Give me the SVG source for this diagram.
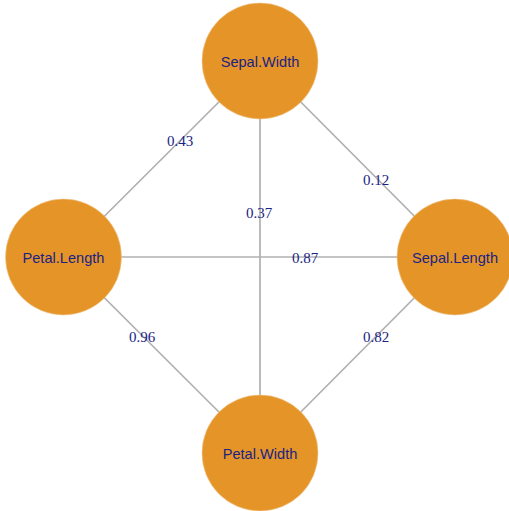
<svg xmlns="http://www.w3.org/2000/svg" width="509" height="511" viewBox="0 0 509 511">
  <style>
    .edge { stroke: #B0B0B0; stroke-width: 1.7; fill: none; }
    .elabel { font-family: "Liberation Serif", "Times New Roman", serif; font-size: 15px; fill: #1A2384; text-anchor: middle; }
    .node circle { fill: #E59428; stroke: #F0C890; stroke-width: 0.6; }
    .node text { font-family: "Liberation Sans", Arial, sans-serif; font-size: 14.6px; fill: #1A2384; text-anchor: middle; }
  </style>
  <rect width="509" height="511" fill="#FFFFFF"/>
  <g id="connectors">
    <line class="edge" x1="260" y1="61" x2="63.5" y2="257"/>
    <line class="edge" x1="260" y1="61" x2="455" y2="257"/>
    <line class="edge" x1="260" y1="61" x2="260" y2="453"/>
    <line class="edge" x1="63.5" y1="257" x2="455" y2="257"/>
    <line class="edge" x1="63.5" y1="257" x2="260" y2="453"/>
    <line class="edge" x1="455" y1="257" x2="260" y2="453"/>
    <text class="elabel" x="180" y="146">0.43</text>
    <text class="elabel" x="376" y="185">0.12</text>
    <text class="elabel" x="259" y="218">0.37</text>
    <text class="elabel" x="305" y="263">0.87</text>
    <text class="elabel" x="142" y="342">0.96</text>
    <text class="elabel" x="376" y="342">0.82</text>
  </g>
  <g id="node-sepal-width" class="node">
    <circle cx="260" cy="61" r="58"/>
    <text x="260" y="66.5">Sepal.Width</text>
  </g>
  <g id="node-petal-length" class="node">
    <circle cx="63.5" cy="257" r="58"/>
    <text x="63.5" y="262.5">Petal.Length</text>
  </g>
  <g id="node-sepal-length" class="node">
    <circle cx="455" cy="257" r="58"/>
    <text x="455" y="262.5">Sepal.Length</text>
  </g>
  <g id="node-petal-width" class="node">
    <circle cx="260" cy="453" r="58"/>
    <text x="260" y="458.5">Petal.Width</text>
  </g>
</svg>
